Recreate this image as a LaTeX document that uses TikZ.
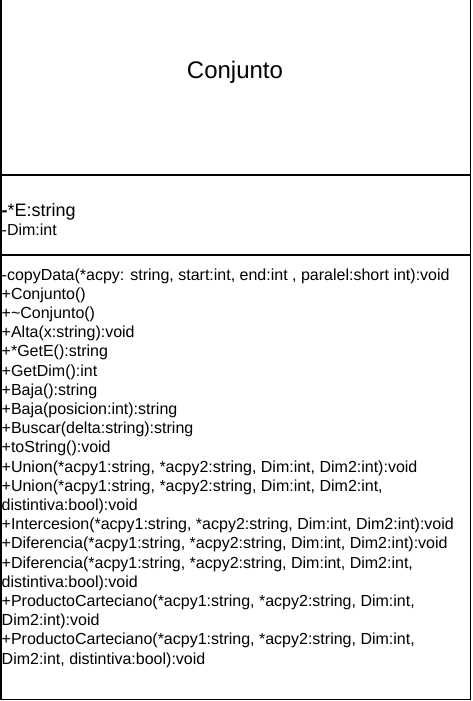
\documentclass[tikz,border=0pt]{standalone}
\usepackage{fontspec}
\setmainfont{Liberation Sans}
\begin{document}
\begin{tikzpicture}[x=1pt,y=-1pt,
  frame/.style={draw=black,line width=1.1pt},
  member/.style={anchor=base west,inner sep=0pt,font=\fontsize{16}{19.2}\selectfont},
  classname/.style={anchor=base,inner sep=0pt,font=\fontsize{24}{28}\selectfont}]
\useasboundingbox (0,0) rectangle (472,701);
% class box and compartment separators
\draw[frame] (1,-2) rectangle (470.5,699.5);
\draw[frame] (1,175) -- (470.5,175);
\draw[frame] (1,255) -- (470.5,255);
% class name
\node[classname] (title) at (235,78.5) {Conjunto};
% attributes
\node[member,font=\fontsize{18}{21}\selectfont] (attrE) at (1.5,216) {\textbf{-}*E:string};
\node[member] (attrDim) at (1.5,235) {-Dim:int};
% operations
\foreach \txt [count=\i from 0] in {
  {-copyData(*acpy: string, start:int, end:int , paralel:short int):void},
  {+Conjunto()},
  {+\textasciitilde Conjunto()},
  {+Alta(x:string):void},
  {+*GetE():string},
  {+GetDim():int},
  {+Baja():string},
  {+Baja(posicion:int):string},
  {+Buscar(delta:string):string},
  {+toString():void},
  {+Union(*acpy1:string, *acpy2:string, Dim:int, Dim2:int):void},
  {+Union(*acpy1:string, *acpy2:string, Dim:int, Dim2:int,},
  {distintiva:bool):void},
  {+Intercesion(*acpy1:string, *acpy2:string, Dim:int, Dim2:int):void},
  {+Diferencia(*acpy1:string, *acpy2:string, Dim:int, Dim2:int):void},
  {+Diferencia(*acpy1:string, *acpy2:string, Dim:int, Dim2:int,},
  {distintiva:bool):void},
  {+ProductoCarteciano(*acpy1:string, *acpy2:string, Dim:int,},
  {Dim2:int):void},
  {+ProductoCarteciano(*acpy1:string, *acpy2:string, Dim:int,},
  {Dim2:int, distintiva:bool):void}}
  \node[member] (op\i) at (1.5,280+19.2*\i) {\txt};
\end{tikzpicture}
\end{document}
